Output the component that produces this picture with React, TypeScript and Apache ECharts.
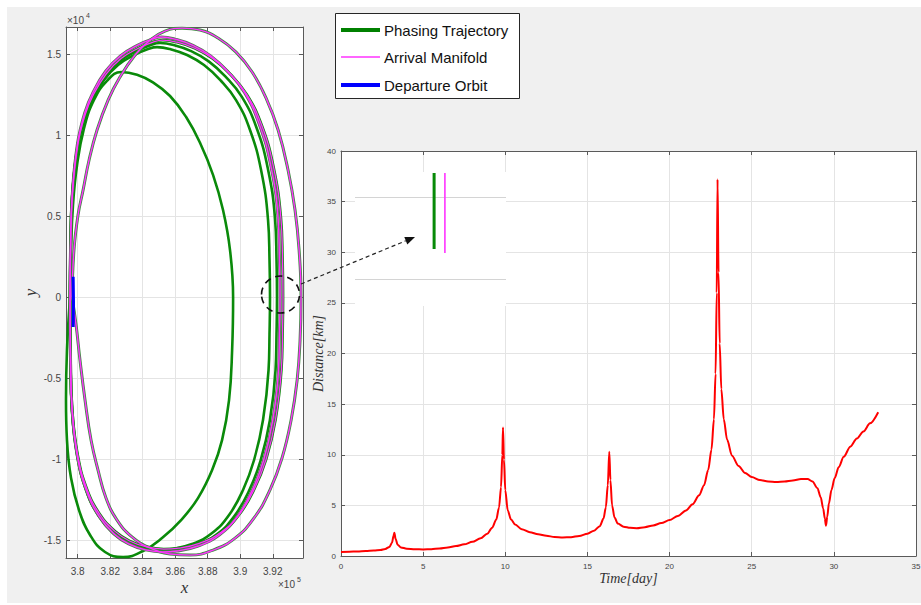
import React, { useEffect, useRef } from "react";
import * as echarts from "echarts";

// ---------- Left panel: orbits (x in units of 1e5 km, y in units of 1e4 km) ----------
const phasingLoopSmall: number[][] = [
  [3.7953, 0], [3.7959, 0.290], [3.7971, 0.568], [3.7996, 0.815], [3.8039, 1.043], [3.8100, 1.216],
  [3.8180, 1.335], [3.8267, 1.389], [3.8365, 1.372], [3.8463, 1.325], [3.8568, 1.241], [3.8667, 1.111],
  [3.8753, 0.951], [3.8833, 0.753], [3.8894, 0.537], [3.8937, 0.290], [3.8956, 0], [3.8950, -0.327],
  [3.8931, -0.636], [3.8888, -0.883], [3.8827, -1.068], [3.8740, -1.241], [3.8636, -1.377], [3.8519, -1.488],
  [3.8402, -1.568], [3.8279, -1.605], [3.8168, -1.574], [3.8076, -1.469], [3.8008, -1.315], [3.7959, -1.117],
  [3.7934, -0.883], [3.7928, -0.636], [3.7934, -0.327], [3.7953, 0],
];
const phasingLoopA: number[][] = [
  [3.7953, 0], [3.7956, 0.29], [3.7965, 0.599], [3.7996, 0.907], [3.8039, 1.093], [3.8088, 1.216],
  [3.8162, 1.340], [3.8248, 1.432], [3.8347, 1.494], [3.8433, 1.531], [3.8488, 1.543], [3.8568, 1.531],
  [3.8673, 1.494], [3.8777, 1.432], [3.8876, 1.340], [3.8974, 1.216], [3.9060, 1.031], [3.9128, 0.784],
  [3.9171, 0.475], [3.9180, 0.228], [3.9183, 0], [3.9180, -0.228], [3.9174, -0.451], [3.9140, -0.759],
  [3.9085, -1.006], [3.9017, -1.191], [3.8931, -1.346], [3.8827, -1.457], [3.8703, -1.525], [3.8580, -1.556],
  [3.8494, -1.562], [3.8396, -1.549], [3.8297, -1.512], [3.8211, -1.451], [3.8125, -1.346], [3.8051, -1.191],
  [3.7996, -0.975], [3.7965, -0.698], [3.7956, -0.389], [3.7953, 0],
];
const phasingLoopB: number[][] = [
  [3.7953, 0], [3.7956, 0.295], [3.7965, 0.609], [3.7998, 0.922], [3.8042, 1.111], [3.8093, 1.236],
  [3.8169, 1.362], [3.8258, 1.455], [3.8361, 1.518], [3.8450, 1.556], [3.8507, 1.568], [3.8590, 1.556],
  [3.8698, 1.518], [3.8806, 1.455], [3.8908, 1.362], [3.9010, 1.236], [3.9099, 1.048], [3.9169, 0.797],
  [3.9214, 0.483], [3.9223, 0.232], [3.9226, 0], [3.9223, -0.229], [3.9217, -0.453], [3.9182, -0.762],
  [3.9125, -1.010], [3.9054, -1.196], [3.8965, -1.351], [3.8858, -1.463], [3.8729, -1.531], [3.8602, -1.562],
  [3.8513, -1.568], [3.8412, -1.555], [3.8309, -1.518], [3.8220, -1.457], [3.8131, -1.351], [3.8054, -1.196],
  [3.7998, -0.979], [3.7965, -0.701], [3.7956, -0.391], [3.7953, 0],
];
const phasingLoopC: number[][] = [
  [3.7953, 0], [3.7956, 0.298], [3.7966, 0.616], [3.7999, 0.932], [3.8045, 1.124], [3.8097, 1.250],
  [3.8176, 1.378], [3.8267, 1.472], [3.8373, 1.536], [3.8464, 1.574], [3.8523, 1.586], [3.8608, 1.574],
  [3.8720, 1.536], [3.8831, 1.472], [3.8936, 1.378], [3.9040, 1.250], [3.9132, 1.060], [3.9204, 0.806],
  [3.9250, 0.488], [3.9260, 0.234], [3.9263, 0], [3.9260, -0.227], [3.9253, -0.449], [3.9217, -0.756],
  [3.9159, -1.002], [3.9086, -1.186], [3.8995, -1.341], [3.8884, -1.451], [3.8752, -1.519], [3.8621, -1.550],
  [3.8529, -1.556], [3.8425, -1.543], [3.8319, -1.506], [3.8228, -1.445], [3.8136, -1.341], [3.8057, -1.186],
  [3.7999, -0.971], [3.7966, -0.695], [3.7956, -0.387], [3.7953, 0],
];
const manifoldLoopA: number[][] = [
  [3.7953, 0], [3.7956, 0.302], [3.7966, 0.623], [3.7998, 0.943], [3.8043, 1.137], [3.8095, 1.265],
  [3.8172, 1.394], [3.8263, 1.489], [3.8367, 1.554], [3.8457, 1.592], [3.8515, 1.605], [3.8599, 1.592],
  [3.8709, 1.554], [3.8818, 1.489], [3.8922, 1.394], [3.9025, 1.265], [3.9115, 1.072], [3.9187, 0.815],
  [3.9232, 0.494], [3.9241, 0.237], [3.9245, 0], [3.9241, -0.230], [3.9235, -0.455], [3.9199, -0.765],
  [3.9142, -1.014], [3.9070, -1.201], [3.8980, -1.357], [3.8871, -1.469], [3.8741, -1.537], [3.8611, -1.568],
  [3.8521, -1.574], [3.8418, -1.561], [3.8314, -1.524], [3.8224, -1.463], [3.8134, -1.357], [3.8056, -1.201],
  [3.7998, -0.983], [3.7966, -0.704], [3.7956, -0.392], [3.7953, 0],
];
const manifoldLoopOuter: number[][] = [
  [3.7965, 0], [3.7977, 0.290], [3.8002, 0.506], [3.8033, 0.660], [3.8070, 0.846], [3.8119, 1.031],
  [3.8187, 1.216], [3.8260, 1.358], [3.8353, 1.494], [3.8445, 1.586], [3.8537, 1.642], [3.8642, 1.660],
  [3.8753, 1.648], [3.8863, 1.599], [3.8974, 1.512], [3.9073, 1.389], [3.9159, 1.228], [3.9233, 1.031],
  [3.9294, 0.784], [3.9337, 0.537], [3.9362, 0.290], [3.9374, 0], [3.9368, -0.265], [3.9350, -0.512],
  [3.9313, -0.759], [3.9257, -0.994], [3.9183, -1.191], [3.9085, -1.364], [3.8968, -1.488], [3.8833, -1.562],
  [3.8691, -1.593], [3.8568, -1.586], [3.8445, -1.549], [3.8334, -1.481], [3.8242, -1.377], [3.8174, -1.241],
  [3.8125, -1.068], [3.8082, -0.883], [3.8045, -0.636], [3.8014, -0.389], [3.7990, -0.173], [3.7965, 0],
];
const departureOrbit: number[][] = [[3.7972, 0.125], [3.7974, -0.03], [3.7972, -0.185]];

const leftXMin = 3.7928;
const leftXMax = 3.9386;
const leftYMin = -1.611;
const leftYMax = 1.667;

// ---------- Right panel: distance vs time ----------
const timeDays = [
  0, 0.5, 1, 1.5, 2, 2.4, 2.7, 2.95, 3.1, 3.2, 3.25, 3.32, 3.45, 3.65, 4, 4.5, 5, 5.5, 6, 6.5,
  7, 7.5, 8, 8.5, 8.9, 9.2, 9.45, 9.62, 9.74, 9.82, 9.86, 9.92, 10.0, 10.15, 10.35, 10.6, 11, 11.5,
  12, 12.5, 13, 13.5, 14, 14.5, 15, 15.4, 15.75, 15.98, 16.12, 16.24, 16.33, 16.4, 16.5, 16.65,
  16.85, 17.2, 17.6, 18, 18.5, 19, 19.5, 20, 20.5, 21, 21.4, 21.8, 22.1, 22.35, 22.55, 22.7, 22.8,
  22.87, 22.92, 22.98, 23.05, 23.15, 23.3, 23.5, 23.8, 24.2, 24.6, 25, 25.5, 26, 26.5, 27, 27.5,
  28, 28.4, 28.7, 29, 29.2, 29.35, 29.45, 29.52, 29.6, 29.7, 29.85, 30.05, 30.3, 30.6, 31, 31.4,
  31.8, 32.2, 32.7,
];
const distanceKm = [
  0.40, 0.42, 0.45, 0.49, 0.54, 0.6, 0.7, 0.9, 1.3, 2.0, 2.3, 1.7, 1.1, 0.85, 0.72, 0.66, 0.65, 0.67, 0.74, 0.84,
  0.98, 1.15, 1.4, 1.75, 2.2, 2.8, 3.6, 4.8, 6.8, 10, 12.7, 9.5, 6.5, 4.5, 3.6, 3.1, 2.65, 2.35,
  2.15, 2.0, 1.88, 1.83, 1.86, 1.98, 2.2, 2.5, 2.95, 3.7, 4.8, 7.0, 10.3, 7.5, 5.0, 3.8,
  3.2, 2.9, 2.78, 2.75, 2.85, 3.02, 3.25, 3.55, 3.95, 4.5, 5.1, 6.0, 7.0, 8.5, 10.5, 13.5, 18,
  26, 37.2, 28, 21, 16.5, 13.5, 11.5, 9.9, 8.9, 8.2, 7.8, 7.5, 7.35, 7.3, 7.35, 7.45,
  7.6, 7.6, 7.35, 6.7, 5.8, 4.7, 3.7, 3.0, 3.9, 5.2, 6.5, 7.7, 8.8, 9.8, 10.8, 11.6,
  12.3, 13.1, 14.2,
];

// ---------- Inset (zoom of the circled region) ----------
const insetPhasing: number[][] = [[3.92564, 0.0793], [3.92564, -0.0134]];
const insetManifold: number[][] = [[3.92577, 0.0793], [3.92577, -0.0183]];
const insetGridX = [3.925, 3.926];
const insetGridY = [0.05, -0.05];
const insetXMin = 3.924687;
const insetXMax = 3.926506;
const insetYMin = -0.0829;
const insetYMax = 0.0805;

const legendNames = ["Phasing Trajectory", "Arrival Manifold", "Departure Orbit"];

const GREEN = "#0a8a0a";
const MAGENTA = "#ff33ff";
const BLUE = "#0000ff";
const UNDER = "#5a755b";
const AXIS = "#5a5a5a";
const GRIDC = "#e4e4e4";
const SANS = "Liberation Sans, Arial, sans-serif";
const SERIF = "Liberation Serif, DejaVu Serif, serif";

const fmt = (v: number) => String(parseFloat(v.toFixed(4)));

function mainAxis(extra: any) {
  return {
    type: "value",
    nameMoveOverlap: false,
    axisLine: { show: true, onZero: false, lineStyle: { color: AXIS, width: 1 } },
    axisTick: { show: true, inside: true, length: 4, lineStyle: { color: AXIS } },
    splitLine: { show: true, lineStyle: { color: GRIDC, width: 1 } },
    ...extra,
  };
}
function mirrorAxis(extra: any) {
  return {
    type: "value",
    axisLine: { show: true, onZero: false, lineStyle: { color: AXIS, width: 1 } },
    axisTick: { show: true, inside: true, length: 4, lineStyle: { color: AXIS } },
    axisLabel: { show: false },
    splitLine: { show: false },
    ...extra,
  };
}

export default function App() {
  const ref = useRef<HTMLDivElement>(null);
  useEffect(() => {
    if (!ref.current) return;
    const chart = echarts.init(ref.current, undefined, { renderer: "svg" });
    const orbitSeries = (name: string, data: number[][], color: string, width: number, z = 2) => ({
      type: "line",
      name,
      xAxisIndex: 0,
      yAxisIndex: 0,
      data,
      showSymbol: false,
      smooth: 0.45,
      lineStyle: { color, width },
      z,
      silent: true,
    });
    const option: any = {
      animation: false,
      backgroundColor: "transparent",
      grid: [
        { left: 66, top: 27, width: 237, height: 531, show: true, backgroundColor: "#ffffff", borderWidth: 0, containLabel: false, outerBoundsMode: "none" },
        { left: 341, top: 151, width: 575, height: 405, show: true, backgroundColor: "#ffffff", borderWidth: 0, containLabel: false, outerBoundsMode: "none" },
        { left: 355, top: 172, width: 151, height: 134, show: false, containLabel: false, outerBoundsMode: "none" },
      ],
      xAxis: [
        mainAxis({
          gridIndex: 0, position: "bottom", min: leftXMin, max: leftXMax, splitNumber: 7,
          axisLabel: { showMinLabel: false, showMaxLabel: false, fontSize: 10, color: "#444", margin: 8, fontFamily: SANS, formatter: fmt },
          name: "x", nameLocation: "middle", nameGap: 21,
          nameTextStyle: { fontFamily: SERIF, fontStyle: "italic", fontSize: 17, color: "#333" },
        }),
        mirrorAxis({ gridIndex: 0, position: "top", min: leftXMin, max: leftXMax, splitNumber: 7 }),
        mainAxis({
          gridIndex: 1, position: "bottom", min: 0, max: 35, interval: 5,
          axisLabel: { fontSize: 8, color: "#444", margin: 6, fontFamily: SANS },
          name: "Time[day]", nameLocation: "middle", nameGap: 15,
          nameTextStyle: { fontFamily: SERIF, fontStyle: "italic", fontSize: 14, color: "#333" },
        }),
        mirrorAxis({ gridIndex: 1, position: "top", min: 0, max: 35, interval: 5 }),
        { type: "value", gridIndex: 2, min: insetXMin, max: insetXMax, show: false },
      ],
      yAxis: [
        mainAxis({
          gridIndex: 0, position: "left", min: leftYMin, max: leftYMax, splitNumber: 6,
          axisLabel: { showMinLabel: false, showMaxLabel: false, fontSize: 10, color: "#444", margin: 5, fontFamily: SANS, formatter: fmt },
          name: "y", nameLocation: "middle", nameGap: 27,
          nameTextStyle: { fontFamily: SERIF, fontStyle: "italic", fontSize: 17, color: "#333" },
        }),
        mirrorAxis({ gridIndex: 0, position: "right", min: leftYMin, max: leftYMax, splitNumber: 6 }),
        mainAxis({
          gridIndex: 1, position: "left", min: 0, max: 40, interval: 5,
          axisLabel: { fontSize: 8, color: "#444", margin: 5, fontFamily: SANS },
          name: "Distance[km]", nameLocation: "middle", nameGap: 16,
          nameTextStyle: { fontFamily: SERIF, fontStyle: "italic", fontSize: 14, color: "#333" },
        }),
        mirrorAxis({ gridIndex: 1, position: "right", min: 0, max: 40, interval: 5 }),
        { type: "value", gridIndex: 2, min: insetYMin, max: insetYMax, show: false },
      ],
      series: [
        orbitSeries(legendNames[0], phasingLoopSmall, GREEN, 2.6),
        orbitSeries(legendNames[0], phasingLoopA, GREEN, 2.6),
        orbitSeries(legendNames[0], phasingLoopB, GREEN, 2.6),
        orbitSeries(legendNames[0], phasingLoopC, GREEN, 2.8, 3),
        orbitSeries(legendNames[0], manifoldLoopA, UNDER, 3, 3),
        orbitSeries(legendNames[0], manifoldLoopOuter, "#3f8a42", 3, 3),
        orbitSeries(legendNames[1], phasingLoopC, MAGENTA, 1.3, 4),
        orbitSeries(legendNames[1], manifoldLoopA, MAGENTA, 1.4, 4),
        orbitSeries(legendNames[1], manifoldLoopOuter, MAGENTA, 1.4, 4),
        { ...orbitSeries(legendNames[2], departureOrbit, BLUE, 3, 5), smooth: false },
        {
          type: "line",
          name: "Distance",
          xAxisIndex: 2,
          yAxisIndex: 2,
          data: timeDays.map((t, i) => [t, distanceKm[i]]),
          showSymbol: false,
          smooth: 0.3,
          smoothMonotone: "x",
          lineStyle: { color: "#ff0000", width: 2 },
          silent: true,
        },
        {
          type: "line",
          name: legendNames[0] + " (zoom)",
          xAxisIndex: 4,
          yAxisIndex: 4,
          data: insetPhasing,
          showSymbol: false,
          lineStyle: { color: "#078a07", width: 3 },
          z: 12,
          silent: true,
          markLine: {
            silent: true,
            symbol: ["none", "none"],
            z: 11,
            label: { show: false },
            lineStyle: { color: "#d4d4d4", width: 1, type: "solid" },
            data: [
              ...insetGridX.map((v) => ({ xAxis: v })),
              ...insetGridY.map((v) => ({ yAxis: v })),
            ],
          },
        },
        {
          type: "line",
          name: legendNames[1] + " (zoom)",
          xAxisIndex: 4,
          yAxisIndex: 4,
          data: insetManifold,
          showSymbol: false,
          lineStyle: { color: MAGENTA, width: 1.6 },
          z: 12,
          silent: true,
        },
      ],
      graphic: [
        { type: "rect", z: 6, silent: true, shape: { x: 355, y: 172, width: 151, height: 134 }, style: { fill: "#ffffff" } },
        { type: "text", z: 20, x: 67, y: 15, style: { text: "×10", fontSize: 10, fill: "#444", fontFamily: SANS } },
        { type: "text", z: 20, x: 86, y: 12, style: { text: "4", fontSize: 7, fill: "#444", fontFamily: SANS } },
        { type: "text", z: 20, x: 278, y: 579, style: { text: "×10", fontSize: 10, fill: "#444", fontFamily: SANS } },
        { type: "text", z: 20, x: 297, y: 576, style: { text: "5", fontSize: 7, fill: "#444", fontFamily: SANS } },
        { type: "ellipse", z: 20, silent: true, shape: { cx: 280.5, cy: 294.5, rx: 19, ry: 18.5 }, style: { fill: "none", stroke: "#111", lineWidth: 1.6, lineDash: [7, 5] } },
        { type: "line", z: 20, silent: true, shape: { x1: 301, y1: 284, x2: 405.8, y2: 240.8 }, style: { stroke: "#222", lineWidth: 1.2, lineDash: [4, 3] } },
        { type: "polygon", z: 20, silent: true, shape: { points: [[415, 237], [407.3, 244.5], [404.3, 237.1]] }, style: { fill: "#111" } },
        { type: "rect", z: 20, silent: true, shape: { x: 335.5, y: 13.5, width: 184, height: 85 }, style: { fill: "#ffffff", stroke: "#262626", lineWidth: 1 } },
        { type: "line", z: 21, silent: true, shape: { x1: 341, y1: 30, x2: 380, y2: 30 }, style: { stroke: "#008000", lineWidth: 4 } },
        { type: "text", z: 21, x: 384, y: 30, style: { text: legendNames[0], fontSize: 15, fill: "#111", fontFamily: SANS, verticalAlign: "middle" } },
        { type: "line", z: 21, silent: true, shape: { x1: 341, y1: 57, x2: 380, y2: 57 }, style: { stroke: MAGENTA, lineWidth: 1.5 } },
        { type: "text", z: 21, x: 384, y: 57, style: { text: legendNames[1], fontSize: 15, fill: "#111", fontFamily: SANS, verticalAlign: "middle" } },
        { type: "line", z: 21, silent: true, shape: { x1: 341, y1: 85, x2: 380, y2: 85 }, style: { stroke: BLUE, lineWidth: 4 } },
        { type: "text", z: 21, x: 384, y: 85, style: { text: legendNames[2], fontSize: 15, fill: "#111", fontFamily: SANS, verticalAlign: "middle" } },
      ],
    };
    chart.setOption(option);
    return () => chart.dispose();
  }, []);

  return (
    <div style={{ position: "absolute", left: 0, top: 0, width: 921, height: 605, background: "#ffffff", overflow: "hidden" }}>
      <div style={{ position: "absolute", left: 7, top: 7, width: 914, height: 596, background: "#f0f0f0" }} />
      <div ref={ref} style={{ position: "absolute", left: 0, top: 0, width: 921, height: 605 }} />
    </div>
  );
}
